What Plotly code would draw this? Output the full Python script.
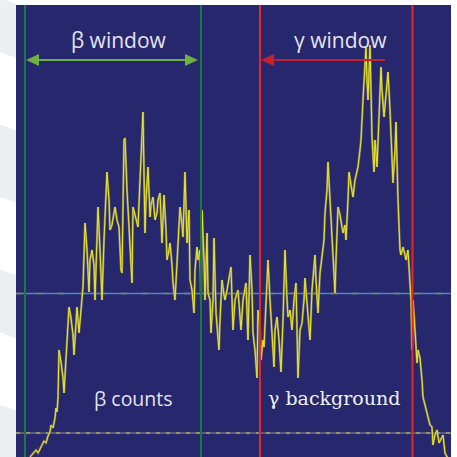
import plotly.graph_objects as go

# Spectrum (channel, counts)
channels = [30,32,34,36,38,40,42,44,46,48,50,51,53,55,56,57,58,59,61,63,64,66,68,69,71,73,74,76,77,79,81,83,85,87,89,90,92,94,95,96,98,100,102,104,107,109,110,112,115,117,119,121,122,124,125,127,129,132,133,135,138,140,143,145,146,148,150,151,153,155,157,158,160,162,164,166,167,169,170,172,173,175,177,180,182,183,185,187,189,190,192,194,195,197,198,200,201,202,204,205,207,208,210,211,213,214,216,217,219,220,222,224,225,227,229,231,233,235,238,239,241,243,246,248,250,252,253,255,257,258,260,261,263,264,266,268,270,272,274,275,277,279,281,283,285,287,288,290,292,294,296,298,300,302,304,305,307,310,312,315,316,318,320,322,324,325,327,328,330,331,333,335,336,338,340,343,345,346,348,349,351,353,355,358,360,361,363,364,366,367,368,370,371,372,374,375,377,379,381,382,384,386,388,390,391,393,395,396,398,400,401,403,405,406,408,410,411,412,413,415,417,418,420,422,423,425,428,430,432,433,435,437,439,441,443,445,447,448]
counts = [0,2,5,7,4,8,11,16,14,21,25,32,29,39,49,45,59,107,95,79,64,97,130,150,139,122,102,137,150,124,147,170,234,207,165,197,207,192,157,197,250,207,157,217,285,257,227,232,250,237,230,187,184,317,319,267,227,174,250,242,230,277,345,224,257,290,240,252,260,237,244,257,264,214,262,227,197,207,214,192,174,157,197,250,232,220,285,214,247,177,167,144,187,210,197,207,157,247,197,157,224,164,157,124,157,219,144,132,107,137,177,162,157,167,177,190,127,157,167,152,127,157,174,117,202,167,124,107,79,147,127,97,117,110,157,197,157,117,90,127,140,117,85,137,207,157,140,147,127,157,174,79,127,134,157,179,157,117,167,202,177,144,184,204,217,244,267,295,257,230,200,164,197,250,242,224,232,217,257,285,272,260,277,290,307,317,357,380,410,377,357,412,367,320,285,317,290,337,390,367,340,362,385,347,324,274,307,335,257,207,202,210,202,197,207,180,157,107,157,127,94,107,99,77,60,52,40,32,30,12,22,27,14,19,22,4,0,0]

beta_window = [25, 201]
gamma_window = [260, 412.5]
mean_level = 163.5
floor_level = 24

labels = {"beta_window": "β window", "gamma_window": "γ window",
          "beta_counts": "β counts", "gamma_bg": "γ background"}

X0, X1 = 16, 451
Y0, Y1 = 0, 452

fig = go.Figure()

# reference horizontal lines
fig.add_trace(go.Scatter(x=[X0, X1], y=[mean_level]*2, mode="lines",
                         line=dict(color="#4f86c4", width=1.5), hoverinfo="skip", showlegend=False))
fig.add_trace(go.Scatter(x=[X0, X1], y=[mean_level]*2, mode="lines",
                         line=dict(color="#8a7f60", width=1.5, dash="6px,15px"), hoverinfo="skip", showlegend=False))
fig.add_trace(go.Scatter(x=[X0, X1], y=[floor_level]*2, mode="lines",
                         line=dict(color="#8c8c98", width=1), hoverinfo="skip", showlegend=False))
fig.add_trace(go.Scatter(x=[X0, X1], y=[floor_level]*2, mode="lines",
                         line=dict(color="#d8d040", width=1, dash="4px,6px"), hoverinfo="skip", showlegend=False))

# spectrum: olive halo + yellow core
fig.add_trace(go.Scatter(x=channels, y=counts, mode="lines",
                         line=dict(color="#84825c", width=2.2), hoverinfo="skip", showlegend=False))
fig.add_trace(go.Scatter(x=channels, y=counts, mode="lines",
                         line=dict(color="#ece624", width=1), showlegend=False))

shapes = []
# light slanted bands in the background outside the panel
for ya, yb in [(1.02, 0.90), (0.74, 0.58), (0.42, 0.28), (0.12, -0.02)]:
    shapes.append(dict(type="path", xref="paper", yref="paper",
                       path=f"M -0.05 {ya} L 0.05 {ya-0.035} L 0.05 {yb-0.035} L -0.05 {yb} Z",
                       fillcolor="#eceef1", line=dict(width=0), layer="below"))
# background panel
shapes.append(dict(type="rect", xref="x", yref="y", x0=X0, x1=X1, y0=Y0, y1=Y1,
                   fillcolor="#27276e", line=dict(width=0), layer="below"))
# window lines
for xv in beta_window:
    shapes.append(dict(type="line", xref="x", yref="y", x0=xv, x1=xv, y0=Y0, y1=Y1,
                       line=dict(color="#1c7a3c", width=2)))
for xv in gamma_window:
    shapes.append(dict(type="line", xref="x", yref="y", x0=xv, x1=xv, y0=Y0, y1=Y1,
                       line=dict(color="#e8262a", width=2)))

# arrows
ay = 397
hl, hh = 13, 6
g = "#6cb043"
bx0, bx1 = beta_window[0] + 1, beta_window[1] - 3
shapes.append(dict(type="line", xref="x", yref="y", x0=bx0 + hl - 2, x1=bx1 - hl + 2, y0=ay, y1=ay,
                   line=dict(color=g, width=2)))
shapes.append(dict(type="path", xref="x", yref="y",
                   path=f"M {bx0} {ay} L {bx0+hl} {ay+hh} L {bx0+hl} {ay-hh} Z",
                   fillcolor=g, line=dict(width=0)))
shapes.append(dict(type="path", xref="x", yref="y",
                   path=f"M {bx1} {ay} L {bx1-hl} {ay+hh} L {bx1-hl} {ay-hh} Z",
                   fillcolor=g, line=dict(width=0)))
r = "#c8202c"
rx0, rx1 = gamma_window[0] + 1, 385
shapes.append(dict(type="line", xref="x", yref="y", x0=rx0 + hl - 2, x1=rx1, y0=ay, y1=ay,
                   line=dict(color=r, width=2)))
shapes.append(dict(type="path", xref="x", yref="y",
                   path=f"M {rx0} {ay} L {rx0+hl} {ay+hh} L {rx0+hl} {ay-hh} Z",
                   fillcolor=r, line=dict(width=0)))

serif = "DejaVu Serif"
annotations = [
    dict(x=119, y=417, text=labels["beta_window"], showarrow=False,
         font=dict(family="Open Sans", size=21, color="#e4e4ee")),
    dict(x=340, y=417, text=labels["gamma_window"], showarrow=False,
         font=dict(family="Open Sans", size=21, color="#e4e4ee")),
    dict(x=133, y=59, text=labels["beta_counts"], showarrow=False,
         font=dict(family="Open Sans", size=19.5, color="#e4e4ee")),
    dict(x=334, y=59, text=labels["gamma_bg"], showarrow=False,
         font=dict(family=serif, size=19, color="#f0f0f4")),
]

fig.update_layout(
    width=457, height=457,
    margin=dict(l=16, r=6, t=5, b=0),
    paper_bgcolor="#ffffff", plot_bgcolor="#27276e",
    xaxis=dict(range=[X0, X1], visible=False, fixedrange=True),
    yaxis=dict(range=[Y0, Y1], visible=False, fixedrange=True),
    shapes=shapes, annotations=annotations, showlegend=False,
)
fig.write_html("out.html", config={"displayModeBar": False},
               post_script="document.body.style.margin='0px';document.body.style.padding='0px';")
